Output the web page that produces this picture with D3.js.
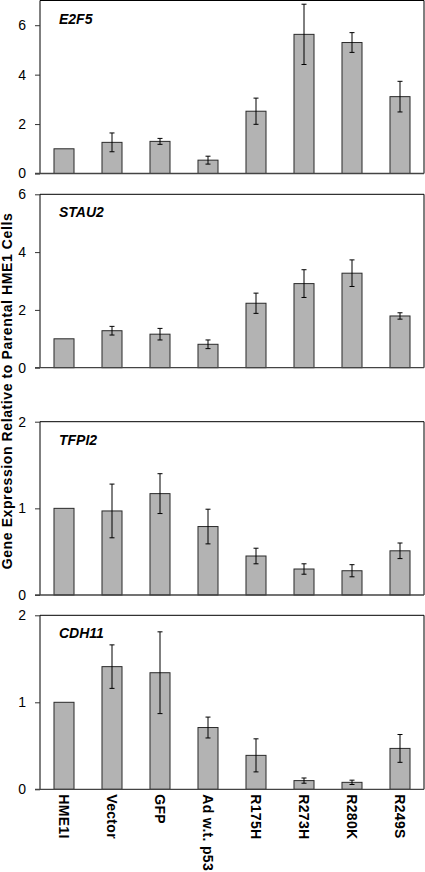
<!DOCTYPE html>
<html><head><meta charset="utf-8">
<script src="https://cdn.jsdelivr.net/npm/d3@7"></script>
<style>html,body{margin:0;padding:0;background:#fff;}svg{display:block;}</style>
</head><body>
<svg id="c" width="425" height="872"></svg>
<script>
const categories = ["HME1I","Vector","GFP","Ad w.t. p53","R175H","R273H","R280K","R249S"];
const geneNames = ["E2F5","STAU2","TFPI2","CDH11"];
const e2f5 = [1.0,1.26,1.30,0.54,2.52,5.63,5.30,3.11];
const e2f5Err = [0,0.38,0.12,0.16,0.53,1.22,0.40,0.62];
const stau2 = [1.0,1.28,1.16,0.81,2.23,2.91,3.27,1.79];
const stau2Err = [0,0.15,0.20,0.15,0.35,0.48,0.46,0.11];
const tfpi2 = [1.0,0.97,1.17,0.79,0.45,0.30,0.28,0.51];
const tfpi2Err = [0,0.31,0.23,0.20,0.09,0.06,0.07,0.09];
const cdh11 = [1.0,1.41,1.34,0.71,0.39,0.10,0.08,0.47];
const cdh11Err = [0,0.25,0.47,0.12,0.19,0.03,0.025,0.16];
const yMax = [7,6,2,2];
const yTicks = [[0,2,4,6],[0,2,4,6],[0,1,2],[0,1,2]];
const yTitle = "Gene Expression Relative to Parental HME1 Cells";

const series = [e2f5,stau2,tfpi2,cdh11];
const errs = [e2f5Err,stau2Err,tfpi2Err,cdh11Err];
// layout (pixels)
const left = 40, right = 424;
const panelTop = [0.5,194.3,421.7,615.3];
const panelZero = [173.5,367.7,595,789.3];

const svg = d3.select("#c");
const font = "'Liberation Sans', Arial, sans-serif";
const x = d3.scaleBand().domain(categories).range([left,right]).paddingInner(0.583).paddingOuter(0.2915);

series.forEach((vals,p)=>{
  const y = d3.scaleLinear().domain([0,yMax[p]]).range([panelZero[p],panelTop[p]]);
  const g = svg.append("g");
  // frame
  g.append("path").attr("d",`M${left},${panelZero[p]}V${panelTop[p]}H${right}V${panelZero[p]}`)
    .attr("fill","none").attr("stroke","#000").attr("stroke-width",1);
  // bars
  g.selectAll("rect").data(vals).join("rect")
    .attr("x",(d,i)=>x(categories[i])).attr("width",x.bandwidth())
    .attr("y",d=>y(d)).attr("height",d=>y(0)-y(d))
    .attr("fill","#b3b3b3").attr("stroke","#2a2a2a").attr("stroke-width",1);
  // error bars
  const eg = g.selectAll("g.err").data(vals.map((v,i)=>({v,e:errs[p][i],c:categories[i]})).filter(d=>d.e>0))
    .join("g").attr("class","err").attr("stroke","#000").attr("stroke-width",1);
  eg.append("line").attr("x1",d=>x(d.c)+x.bandwidth()/2).attr("x2",d=>x(d.c)+x.bandwidth()/2)
    .attr("y1",d=>y(d.v+d.e)).attr("y2",d=>y(d.v-d.e));
  eg.append("line").attr("x1",d=>x(d.c)+x.bandwidth()/2-2.5).attr("x2",d=>x(d.c)+x.bandwidth()/2+2.5)
    .attr("y1",d=>y(d.v+d.e)).attr("y2",d=>y(d.v+d.e));
  eg.append("line").attr("x1",d=>x(d.c)+x.bandwidth()/2-2.5).attr("x2",d=>x(d.c)+x.bandwidth()/2+2.5)
    .attr("y1",d=>y(d.v-d.e)).attr("y2",d=>y(d.v-d.e));
  // y axis
  const ax = g.append("g").attr("transform",`translate(${left},0)`)
    .call(d3.axisLeft(y).tickValues(yTicks[p]).tickSize(5).tickPadding(9).tickFormat(d3.format("d")));
  ax.select(".domain").remove();
  ax.selectAll(".tick line").attr("stroke","#333");
  ax.selectAll("text").attr("font-family",font).attr("font-size",14).attr("fill","#000");
  // zero baseline
  g.append("line").attr("x1",left-5).attr("x2",right).attr("y1",y(0)).attr("y2",y(0))
    .attr("stroke","#444").attr("stroke-width",1.3);
  // gene label
  g.append("text").attr("x",left+19).attr("y",panelTop[p]+23).text(geneNames[p])
    .attr("font-family",font).attr("font-size",14).attr("font-weight","bold").attr("font-style","italic");
});

// x labels
svg.append("g").selectAll("text").data(categories).join("text")
  .attr("transform",d=>`translate(${x(d)+x.bandwidth()/2},${panelZero[3]+5}) rotate(90)`)
  .attr("dy","0.35em").attr("text-anchor","start").attr("letter-spacing",0.3)
  .attr("font-family",font).attr("font-size",14).attr("font-weight","bold").text(d=>d);

// y title
svg.append("text").attr("transform",`translate(11.5,391) rotate(-90)`)
  .attr("text-anchor","middle").attr("letter-spacing",0.6).attr("font-family",font).attr("font-size",14).attr("font-weight","bold").text(yTitle);
</script>
</body></html>
